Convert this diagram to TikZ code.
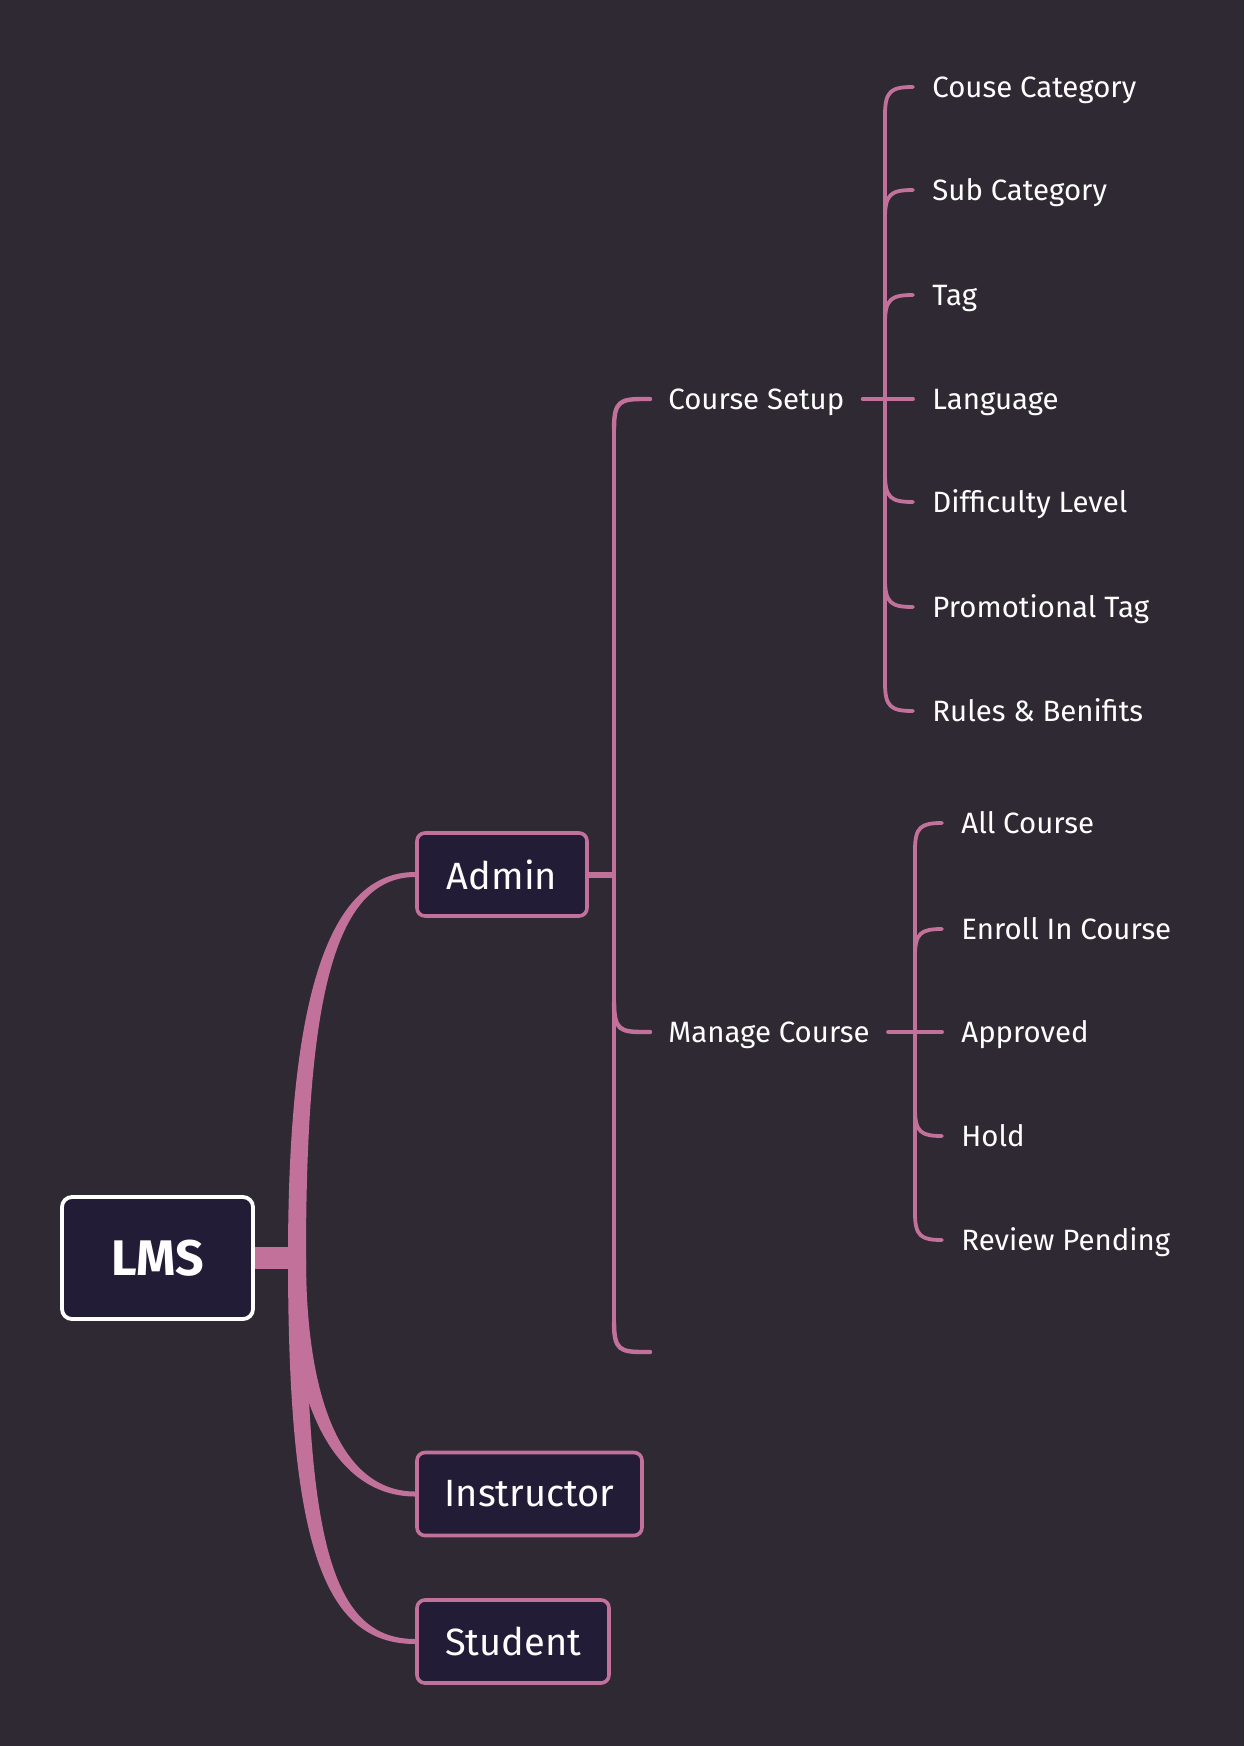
\documentclass[tikz,border=0pt]{standalone}
\usepackage{fontspec}
\setmainfont{Fira Sans}
\usetikzlibrary{calc,backgrounds}
\definecolor{bgcol}{RGB}{46,41,51}
\definecolor{pinkc}{RGB}{194,114,154}
\definecolor{boxfill}{RGB}{35,28,55}
\begin{document}
\begin{tikzpicture}[x=0.5pt,y=-0.5pt,
  rootbox/.style={draw=white, line width=1.9pt, fill=boxfill, rounded corners=5pt,
    minimum width=95.5pt, minimum height=61pt, inner sep=0pt, text=white,
    font=\fontsize{25}{29}\selectfont\bfseries},
  mainbox/.style={draw=pinkc, line width=1.8pt, fill=boxfill, rounded corners=4pt,
    minimum height=41.5pt, inner sep=0pt, text=white,
    font=\fontsize{19}{22}\selectfont},
  leaftext/.style={anchor=west, inner xsep=9.5pt, inner ysep=0pt, text height=10.1pt,
    text depth=0pt, text=white, font=\fontsize{14.7}{17.6}\selectfont},
  adminline/.style={draw=pinkc, line width=2.2pt, line cap=round},
  subline/.style={draw=pinkc, line width=1.9pt, line cap=round},
]
\useasboundingbox (0,0) rectangle (1244,1746);

% nodes
\node[rootbox] (lms) at (157.5,1258) {LMS};
\node[mainbox, minimum width=85pt] (admin) at (502,874.5) {Admin};
\node[mainbox, minimum width=112.5pt] (instr) at (529.5,1494) {Instructor};
\node[mainbox, minimum width=96pt] (student) at (513,1641.5) {Student};

\node[leaftext, inner xsep=9pt] (cs) at (650,399) {Course Setup};
\node[leaftext, inner xsep=9pt] (mc) at (650,1032) {Manage Course};
\coordinate (adminend) at (650,1352);

\node[leaftext] (c1) at (913,87) {Couse Category};
\node[leaftext] (c2) at (913,190) {Sub Category};
\node[leaftext] (c3) at (913,295) {Tag};
\node[leaftext] (c4) at (913,399) {Language};
\node[leaftext] (c5) at (913,502) {Difficulty Level};
\node[leaftext] (c6) at (913,607) {Promotional Tag};
\node[leaftext] (c7) at (913,711) {Rules \& Benifits};

\node[leaftext] (m1) at (942,823) {All Course};
\node[leaftext] (m2) at (942,929) {Enroll In Course};
\node[leaftext] (m3) at (942,1032) {Approved};
\node[leaftext] (m4) at (942,1136) {Hold};
\node[leaftext] (m5) at (942,1240) {Review Pending};

\coordinate (root) at (297,1258);

\begin{pgfonlayer}{background}
\fill[bgcol] (0,0) rectangle (1244,1746);

% root trunk
\draw[pinkc, line width=11pt] (lms.east) -- (root);
\fill[pinkc] ($(root)+(-9,0)$) .. controls ($(root)+(-9,-258)$) and ($(admin.west)+(-88,-2.5)$) .. ($(admin.west)+(0,-2.5)$)
  -- ($(admin.west)+(0,2.5)$) .. controls ($(admin.west)+(-82,2.5)$) and ($(root)+(9,-255)$) .. ($(root)+(9,0)$) -- cycle;
\fill[pinkc] ($(root)+(-9,0)$) .. controls ($(root)+(-9,142)$) and ($(instr.west)+(-82,2.5)$) .. ($(instr.west)+(0,2.5)$)
  -- ($(instr.west)+(0,-2.5)$) .. controls ($(instr.west)+(-74,-2.5)$) and ($(root)+(9,140)$) .. ($(root)+(9,0)$) -- cycle;
\fill[pinkc] ($(root)+(-9,0)$) .. controls ($(root)+(-9,287)$) and ($(student.west)+(-92,2.5)$) .. ($(student.west)+(0,2.5)$)
  -- ($(student.west)+(0,-2.5)$) .. controls ($(student.west)+(-84,-2.5)$) and ($(root)+(9,282)$) .. ($(root)+(9,0)$) -- cycle;

% admin bracket
\draw[pinkc, line width=3pt] (admin.east) -- ($(admin.east)+(27,0)$);
\draw[adminline] ($(cs.west)+(-36,30)$) -- ($(adminend)+(-36,-30)$);
\draw[adminline] ($(cs.west)+(-36,30)$) .. controls ($(cs.west)+(-36,2)$) and ($(cs.west)+(-30,0)$) .. ($(cs.west)+(-6,0)$) -- (cs.west);
\draw[adminline] ($(mc.west)+(-36,-30)$) .. controls ($(mc.west)+(-36,-2)$) and ($(mc.west)+(-30,0)$) .. ($(mc.west)+(-6,0)$) -- (mc.west);
\draw[adminline] ($(adminend)+(-36,-30)$) .. controls ($(adminend)+(-36,-2)$) and ($(adminend)+(-30,0)$) .. ($(adminend)+(-6,0)$) -- (adminend);

% course setup bracket
\draw[subline] ($(c1.west)+(-28,28)$) -- ($(c7.west)+(-28,-28)$);
\foreach \n in {c1,c2,c3}
  \draw[subline] ($(\n.west)+(-28,28)$) .. controls ($(\n.west)+(-28,4)$) and ($(\n.west)+(-22,0)$) .. (\n.west);
\foreach \n in {c5,c6,c7}
  \draw[subline] ($(\n.west)+(-28,-28)$) .. controls ($(\n.west)+(-28,-4)$) and ($(\n.west)+(-22,0)$) .. (\n.west);
\draw[subline] (cs.east) -- (c4.west);

% manage course bracket
\draw[subline] ($(m1.west)+(-27,27)$) -- ($(m5.west)+(-27,-27)$);
\foreach \n in {m1,m2}
  \draw[subline] ($(\n.west)+(-27,27)$) .. controls ($(\n.west)+(-27,4)$) and ($(\n.west)+(-21,0)$) .. (\n.west);
\foreach \n in {m4,m5}
  \draw[subline] ($(\n.west)+(-27,-27)$) .. controls ($(\n.west)+(-27,-4)$) and ($(\n.west)+(-21,0)$) .. (\n.west);
\draw[subline] (mc.east) -- (m3.west);
\end{pgfonlayer}
\end{tikzpicture}
\end{document}
